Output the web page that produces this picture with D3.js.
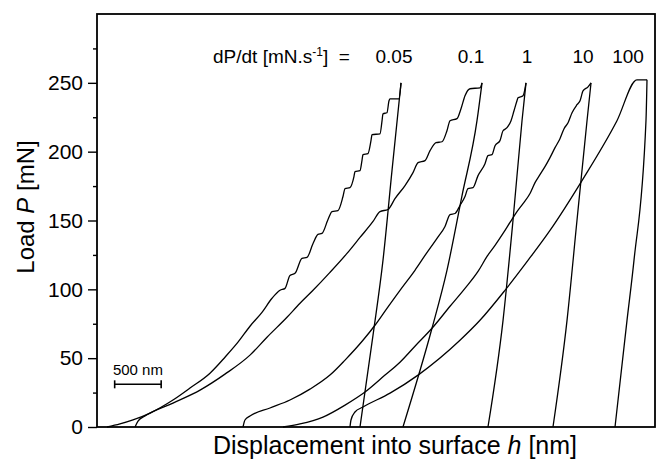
<!DOCTYPE html>
<html>
<head>
<meta charset="utf-8">
<script src="https://cdn.jsdelivr.net/npm/d3@7"></script>
<style>
body { margin: 0; background: #fff; }
svg text { font-family: "Liberation Sans", Arial, Helvetica, sans-serif; fill: #000; }
</style>
</head>
<body>
<svg id="chart" width="664" height="464"></svg>
<script>
// loading rates dP/dt [mN/s]
const rates = ["0.05", "0.1", "1", "10", "100"];

// loading branches, [h (nm), P (mN)]
const load005 = [[108,0],[247,2.2],[387,5.1],[570,10.1],[817,19.6],[1000,28.3],[1215,39.1],[1376,50.7],
  [1516,61.6],[1645,73.2],[1774,83.3],[1882,93.5],[1968,99.3],[2022,100.7],[2075,110.1],[2129,111.6],
  [2204,122.5],[2258,123.2],[2323,133.3],[2376,139.9],[2419,140.6],[2484,150.7],[2527,156.5],[2591,157.2],
  [2645,167.4],[2667,173.2],[2720,173.9],[2763,181.9],[2774,185.5],[2828,186.2],[2849,193.5],[2860,197.8],
  [2914,198.6],[2946,208.0],[2957,212.3],[3043,213.0],[3065,222.5],[3075,227.5],[3118,228.3],[3140,237.0],
  [3151,238.4],[3247,238.4],[3269,250.0]];
const load01 = [[409,0],[441,4.3],[516,8.0],[817,17.4],[1108,26.8],[1376,38.4],[1645,52.2],[1828,65.2],
  [2043,79.7],[2183,89.9],[2323,99.3],[2505,112.3],[2688,126.1],[2828,137.7],[2968,149.3],[3043,156.5],
  [3129,158.0],[3204,165.9],[3312,175.4],[3398,184.8],[3452,192.0],[3527,193.5],[3581,200.7],[3645,206.5],
  [3710,207.2],[3763,215.2],[3796,222.5],[3871,224.0],[3914,231.2],[3957,240.6],[4011,245.7],[4118,246.4],
  [4140,250.0]];
const load1 = [[1570,0],[1591,5.1],[1645,8.0],[1860,13.8],[2075,19.6],[2290,27.5],[2505,37.7],[2667,48.6],
  [2860,63.0],[2989,73.9],[3118,86.2],[3258,99.3],[3419,113.8],[3527,124.6],[3656,137.0],[3742,145.7],
  [3796,154.3],[3850,155.1],[3903,160.9],[3957,167.4],[3989,173.2],[4043,173.9],[4097,182.6],[4172,191.3],
  [4204,197.1],[4247,197.8],[4280,204.3],[4333,208.0],[4366,215.2],[4409,217.4],[4452,222.5],[4484,229.7],
  [4516,237.0],[4527,239.1],[4581,240.6],[4613,250.0]];
const load10 = [[2000,0],[2183,2.2],[2430,7.2],[2667,15.9],[2882,25.4],[3097,37.7],[3258,47.1],[3419,58.7],
  [3602,71.7],[3796,87.7],[3957,100.7],[4097,113.0],[4194,123.9],[4280,131.9],[4366,140.6],[4441,148.6],
  [4516,156.5],[4581,162.3],[4656,169.6],[4710,177.5],[4763,183.3],[4817,189.1],[4871,195.7],[4925,202.9],
  [4978,209.4],[5022,216.7],[5065,221.0],[5108,228.3],[5161,234.1],[5194,237.0],[5226,244.2],[5280,247.1],
  [5312,250.0]];
const load100 = [[2720,0],[2731,5.1],[2774,10.9],[2860,14.5],[3151,24.6],[3452,37.7],[3903,63.0],[4118,77.5],
  [4387,99.3],[4634,121.0],[4871,142.8],[5215,179.0],[5591,222.5],[5806,252.2],[5914,252.2]];

// unloading branches, [h (nm), P (mN)], from final depth up to peak
const unload005 = [[2828,0],[2968,66.7],[3075,121.0],[3172,186.2],[3269,250.0]];
const unload01 = [[3290,0],[3602,71.7],[3763,113.8],[3925,168.1],[4086,222.5],[4140,250.0]];
const unload1 = [[4204,0],[4366,77.5],[4473,150.0],[4570,222.5],[4613,250.0]];
const unload10 = [[4903,0],[5054,77.5],[5161,150.0],[5269,222.5],[5312,250.0]];
const unload100 = [[5570,0],[5699,77.5],[5774,121.0],[5903,222.5],[5914,252.2]];

const loads = [load005, load01, load1, load10, load100];
const unloads = [unload005, unload01, unload1, unload10, unload100];

const yTicks = [0, 50, 100, 150, 200, 250];
const yMinor = [25, 75, 125, 175, 225, 275];
const scaleBar = [190, 690];   // nm
const scaleBarP = 31;          // mN, height of the bar

const svg = d3.select("#chart");
const L = 97, R = 655, T = 14, B = 427;

const x = d3.scaleLinear().domain([0, 6000]).range([L, R]);
const y = d3.scaleLinear().domain([0, 300]).range([B, T]);

// y axis, major + minor ticks
const yAxis = svg.append("g")
  .attr("transform", `translate(${L},0)`)
  .call(d3.axisLeft(y).tickValues(yTicks).tickSize(9).tickPadding(5).tickFormat(d3.format("d")));
yAxis.selectAll("text").style("font-size", "21px");
yAxis.select(".domain").remove();
yAxis.selectAll("line").attr("stroke", "#000").attr("stroke-width", 1.4);

const yMinorAxis = svg.append("g")
  .attr("transform", `translate(${L},0)`)
  .call(d3.axisLeft(y).tickValues(yMinor).tickSize(4).tickFormat(""));
yMinorAxis.select(".domain").remove();
yMinorAxis.selectAll("line").attr("stroke", "#000").attr("stroke-width", 1.4);

// curves
const line = d3.line()
  .x(d => x(d[0]))
  .y(d => y(d[1]))
  .curve(d3.curveMonotoneX);

svg.append("g").selectAll("path.load")
  .data(loads)
  .join("path")
  .attr("class", "load")
  .attr("d", line)
  .attr("fill", "none")
  .attr("stroke", "#000")
  .attr("stroke-width", 1.3);

svg.append("g").selectAll("path.unload")
  .data(unloads)
  .join("path")
  .attr("class", "unload")
  .attr("d", line)
  .attr("fill", "none")
  .attr("stroke", "#000")
  .attr("stroke-width", 1.3);

// frame
svg.append("rect")
  .attr("x", L).attr("y", T)
  .attr("width", R - L).attr("height", B - T)
  .attr("fill", "none")
  .attr("stroke", "#000")
  .attr("stroke-width", 1.8);

// rate labels
const labelShift = [-7, -11, 1, -8, -19];
svg.append("g").selectAll("text")
  .data(rates)
  .join("text")
  .attr("x", (d, i) => x(loads[i][loads[i].length - 1][0]) + labelShift[i])
  .attr("y", 63)
  .attr("text-anchor", "middle")
  .style("font-size", "19px")
  .text(d => d);

const head = svg.append("text")
  .attr("x", 213).attr("y", 63)
  .style("font-size", "19px");
head.append("tspan").text("dP/dt [mN.s");
head.append("tspan").attr("dy", -7).style("font-size", "12px").text("-1");
head.append("tspan").attr("dy", 7).text("]  =");
head.attr("xml:space", "preserve");

// scale bar
const sb = svg.append("g").attr("stroke", "#000").attr("stroke-width", 1.6);
sb.append("line")
  .attr("x1", x(scaleBar[0])).attr("x2", x(scaleBar[1]))
  .attr("y1", y(scaleBarP)).attr("y2", y(scaleBarP));
sb.selectAll("line.cap")
  .data(scaleBar)
  .join("line")
  .attr("class", "cap")
  .attr("x1", d => x(d)).attr("x2", d => x(d))
  .attr("y1", y(scaleBarP) - 4).attr("y2", y(scaleBarP) + 4);
svg.append("text")
  .attr("x", (x(scaleBar[0]) + x(scaleBar[1])) / 2)
  .attr("y", y(scaleBarP) - 9)
  .attr("text-anchor", "middle")
  .style("font-size", "15px")
  .text((scaleBar[1] - scaleBar[0]) + " nm");

// axis titles
const xt = svg.append("text")
  .attr("x", 395).attr("y", 454)
  .attr("text-anchor", "middle")
  .style("font-size", "25px");
xt.append("tspan").text("Displacement into surface ");
xt.append("tspan").style("font-style", "italic").text("h");
xt.append("tspan").text(" [nm]");

const yt = svg.append("text")
  .attr("transform", "translate(34,207) rotate(-90)")
  .attr("text-anchor", "middle")
  .style("font-size", "24px");
yt.append("tspan").text("Load ");
yt.append("tspan").style("font-style", "italic").text("P");
yt.append("tspan").text(" [mN]");
</script>
</body>
</html>
